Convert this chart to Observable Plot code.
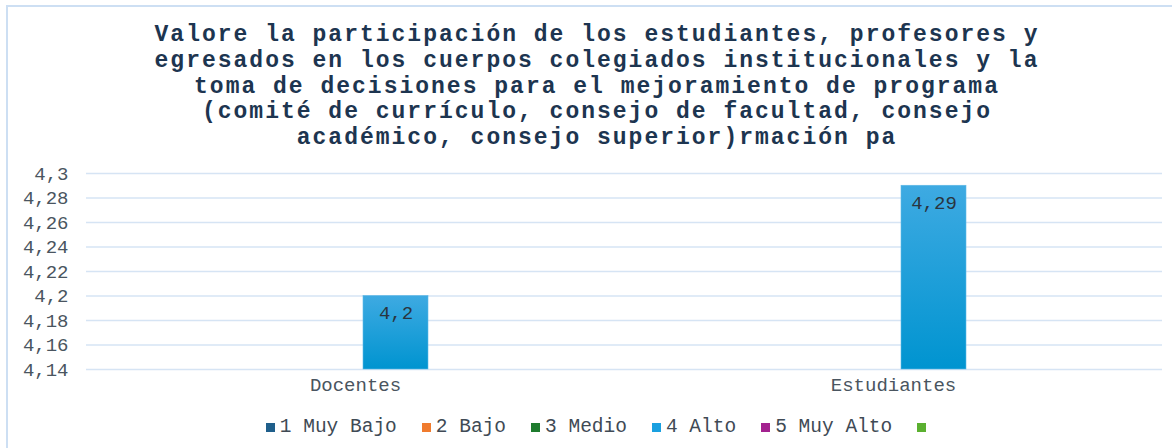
<!DOCTYPE html>
<html>
<head>
<meta charset="utf-8">
<script src="https://cdn.jsdelivr.net/npm/d3@7"></script>
<script src="https://cdn.jsdelivr.net/npm/@observablehq/plot@0.6"></script>
<style>
  html, body { margin: 0; padding: 0; background: #fff; }
  body { width: 1172px; height: 448px; position: relative; overflow: hidden; font-family: "Liberation Mono", "DejaVu Sans Mono", monospace; }
  #frame { position: absolute; left: 6px; top: 5px; width: 1300px; height: 600px; border-left: 2px solid #cddff3; border-top: 2px solid #cddff3; }
  #title { position: absolute; left: 0; top: 23px; width: 1194px; text-align: center; font-weight: bold; font-size: 23px; line-height: 25.8px; letter-spacing: 2.0px; color: #1d3550; }
  #chart { position: absolute; left: 0; top: 150px; }
  #legend { position: absolute; left: 0; top: 416px; width: 1192px; display: flex; justify-content: center; gap: 25px; font-size: 19.5px; color: #404a55; line-height: 22px; }
  #legend .item { display: flex; align-items: center; gap: 5px; }
  #legend .sw { width: 9px; height: 9px; display: inline-block; }
</style>
</head>
<body>
<svg width="0" height="0" style="position:absolute">
  <defs>
    <linearGradient id="barGrad" x1="0" y1="0" x2="0" y2="1">
      <stop offset="0" stop-color="#3eaae2"/>
      <stop offset="1" stop-color="#0094d0"/>
    </linearGradient>
  </defs>
</svg>
<div id="frame"></div>
<div id="title">Valore la participación de los estudiantes, profesores y<br>egresados en los cuerpos colegiados institucionales y la<br>toma de decisiones para el mejoramiento de programa<br>(comité de currículo, consejo de facultad, consejo<br>académico, consejo superior)rmación pa</div>
<div id="chart"></div>
<div id="legend"></div>
<script>
const categories = ["Docentes", "Estudiantes"];
const seriesNames = ["1 Muy Bajo", "2 Bajo", "3 Medio", "4 Alto", "5 Muy Alto", ""];
const seriesColors = ["#1f5f8b", "#f07b2e", "#1e7b2e", "#1aa0e0", "#a3228f", "#5bb030"];
const altoValues = [4.2, 4.29];
const yTicks = [4.14, 4.16, 4.18, 4.2, 4.22, 4.24, 4.26, 4.28, 4.3];
const yMin = 4.14, yMax = 4.3;

const fmt = v => String(+v.toFixed(2)).replace(".", ",");

const rows = categories.map((c, i) => ({category: c, series: "4 Alto", value: altoValues[i]}));

const plot = Plot.plot({
  width: 1172,
  height: 254,
  marginLeft: 85,
  marginRight: 10,
  marginTop: 23,
  marginBottom: 35,
  style: {fontFamily: "'Liberation Mono', monospace", fontSize: "19px", color: "#4a5560", background: "transparent"},
  facet: {data: rows, x: "category"},
  fx: {domain: categories, padding: 0, label: null, axis: "bottom", tickSize: 0, tickPadding: 8},
  x: {domain: seriesNames, paddingInner: 0.1925, paddingOuter: 0.441, axis: null},
  y: {domain: [yMin, yMax], ticks: yTicks, tickFormat: fmt, tickSize: 0, tickPadding: 18, label: null},
  marks: [
    Plot.ruleY(yTicks, {stroke: "#d6e4f4", strokeWidth: 1.3}),
    Plot.barY(rows, {x: "series", y1: yMin, y2: "value", fill: "url(#barGrad)", stroke: "#5fb8e6", strokeWidth: 0.6}),
    Plot.text(rows, {x: "series", y: "value", text: d => fmt(d.value), dy: 17, fill: "#2a3540", fontSize: 19})
  ]
});
document.getElementById("chart").appendChild(plot);

const legend = document.getElementById("legend");
seriesNames.forEach((name, i) => {
  const item = document.createElement("span");
  item.className = "item";
  const sw = document.createElement("span");
  sw.className = "sw";
  sw.style.background = seriesColors[i];
  item.appendChild(sw);
  if (name) {
    const t = document.createElement("span");
    t.textContent = name;
    item.appendChild(t);
  }
  legend.appendChild(item);
});
</script>
</body>
</html>
